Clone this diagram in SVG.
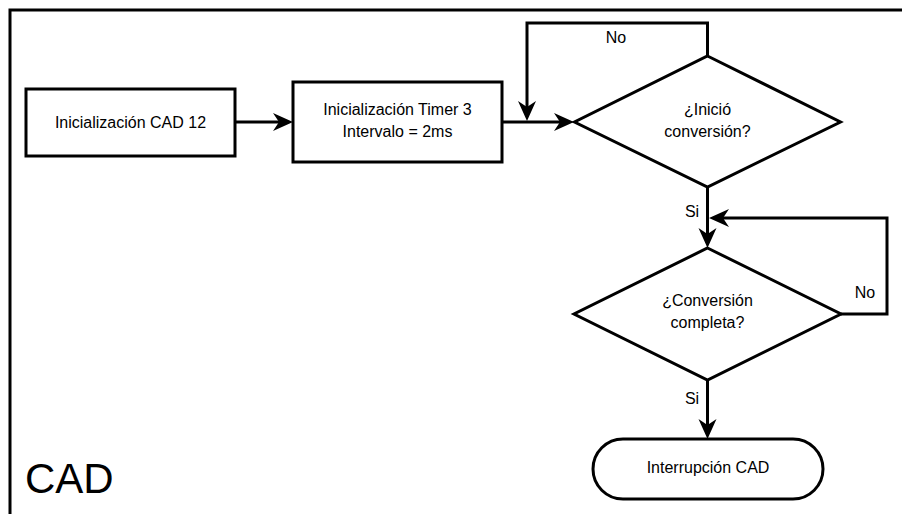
<svg xmlns="http://www.w3.org/2000/svg" width="902" height="514" viewBox="0 0 902 514">
  <style>
    .shape { fill: #ffffff; stroke: #000000; stroke-width: 3; }
    .edge { fill: none; stroke: #000000; stroke-width: 3; }
    .lbl { font-family: "Liberation Sans", Arial, sans-serif; font-size: 16px; fill: #000000; text-anchor: middle; }
    .title { font-family: "Liberation Sans", Arial, sans-serif; font-size: 42px; fill: #000000; }
  </style>
  <defs>
    <marker id="arrow" viewBox="0 0 20 20" refX="6" refY="10" markerWidth="20" markerHeight="20" markerUnits="userSpaceOnUse" orient="auto" overflow="visible">
      <path d="M0,1 L20,10 L0,19 L6,10 Z" fill="#000000" stroke="none"/>
    </marker>
  </defs>

  <rect width="902" height="514" fill="#ffffff"/>

  <!-- container frame -->
  <g id="frame">
    <rect x="10" y="10" width="1000" height="600" fill="none" stroke="#000000" stroke-width="3"/>
    <text class="title" x="25" y="493">CAD</text>
  </g>

  <!-- connectors -->
  <g id="connectors">
    <path class="edge" d="M235,122 L279,122" marker-end="url(#arrow)"/>
    <path class="edge" d="M502,122 L560,122" marker-end="url(#arrow)"/>
    <path class="edge" d="M707.5,56 L707.5,23 L527,23 L527,107" marker-end="url(#arrow)"/>
    <path class="edge" d="M707.5,187 L707.5,234" marker-end="url(#arrow)"/>
    <path class="edge" d="M841,314 L887,314 L887,218 L723,218" marker-end="url(#arrow)"/>
    <path class="edge" d="M707.5,380 L707.5,425" marker-end="url(#arrow)"/>
    <text class="lbl" x="616" y="43">No</text>
    <text class="lbl" x="692" y="217">Si</text>
    <text class="lbl" x="865" y="298">No</text>
    <text class="lbl" x="692" y="404">Si</text>
  </g>

  <g id="init-cad">
    <rect class="shape" x="26" y="89" width="209" height="67"/>
    <text class="lbl" x="130.5" y="128">Inicialización CAD 12</text>
  </g>

  <g id="init-timer">
    <rect class="shape" x="293" y="82" width="209" height="80"/>
    <text class="lbl" x="397.5" y="115">Inicialización Timer 3</text>
    <text class="lbl" x="397.5" y="137">Intervalo = 2ms</text>
  </g>

  <g id="start-check">
    <polygon class="shape" points="707.5,56 840.5,122 707.5,187 574.5,122"/>
    <text class="lbl" x="707.5" y="115">¿Inició</text>
    <text class="lbl" x="707.5" y="137">conversión?</text>
  </g>

  <g id="done-check">
    <polygon class="shape" points="707.5,248 841,314 707.5,380 574,314"/>
    <text class="lbl" x="707.5" y="306">¿Conversión</text>
    <text class="lbl" x="707.5" y="328">completa?</text>
  </g>

  <g id="interrupt">
    <rect class="shape" x="593" y="439" width="230" height="60" rx="30" ry="30"/>
    <text class="lbl" x="708" y="473">Interrupción CAD</text>
  </g>
</svg>
